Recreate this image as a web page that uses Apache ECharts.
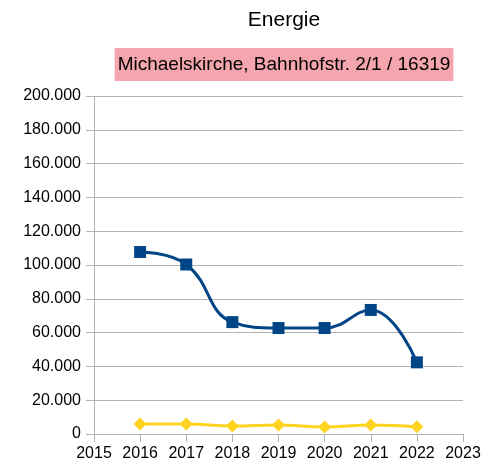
<!DOCTYPE html>
<html><head><meta charset="utf-8">
<script src="https://cdn.jsdelivr.net/npm/echarts@6/dist/echarts.min.js"></script>
<style>html,body{margin:0;padding:0;background:#fff}#c{width:484px;height:468px}</style>
</head><body><div id="c"></div>
<script>
const years = [2016, 2017, 2018, 2019, 2020, 2021, 2022];
const seriesBlue = [107700, 100300, 66200, 62700, 62700, 73400, 42400];
const seriesYellow = [5900, 5900, 4700, 5300, 4100, 5300, 4300];
const titleText = 'Energie';
const subtitleText = 'Michaelskirche, Bahnhofstr. 2/1 / 16319';

const fmt = v => String(v).replace(/\B(?=(\d{3})+(?!\d))/g, '.');
const chart = echarts.init(document.getElementById('c'));
const font = '"Liberation Sans", Arial, sans-serif';
chart.setOption({
  animation: false,
  textStyle: { fontFamily: font },
  title: [
    { text: titleText, left: 279, top: 5, textAlign: 'center',
      textStyle: { fontFamily: font, fontSize: 21, fontWeight: 'normal', color: '#000' } },
    { text: subtitleText, left: 281, top: 48, textAlign: 'center',
      backgroundColor: '#f4a5ad', padding: [7, 3, 7, 3],
      textStyle: { fontFamily: font, fontSize: 19, fontWeight: 'normal', color: '#000' } }
  ],
  grid: { left: 94, right: 21, top: 96, bottom: 34, containLabel: false },
  xAxis: {
    type: 'value', min: 2015, max: 2023, interval: 1,
    axisLine: { show: true, lineStyle: { color: '#b3b3b3' } },
    axisTick: { show: true, length: 8, lineStyle: { color: '#b3b3b3' } },
    axisLabel: { color: '#000', fontSize: 16, fontFamily: font, margin: 12, formatter: v => String(v) },
    splitLine: { show: false }
  },
  yAxis: {
    type: 'value', min: 0, max: 200000, interval: 20000,
    axisLine: { show: true, lineStyle: { color: '#b3b3b3' } },
    axisTick: { show: true, length: 8, lineStyle: { color: '#b3b3b3' } },
    axisLabel: { color: '#000', fontSize: 16, fontFamily: font, margin: 13, formatter: fmt },
    splitLine: { show: true, lineStyle: { color: '#b3b3b3' } }
  },
  series: [
    { type: 'line', smooth: 0.45, data: years.map((y, i) => [y, seriesBlue[i]]),
      symbol: 'rect', symbolSize: 12, itemStyle: { color: '#004586' },
      lineStyle: { color: '#004586', width: 3 } },
    { type: 'line', smooth: 0.45, data: years.map((y, i) => [y, seriesYellow[i]]),
      symbol: 'diamond', symbolSize: 13, itemStyle: { color: '#ffd320' },
      lineStyle: { color: '#ffd320', width: 3 } }
  ]
});
</script></body></html>
